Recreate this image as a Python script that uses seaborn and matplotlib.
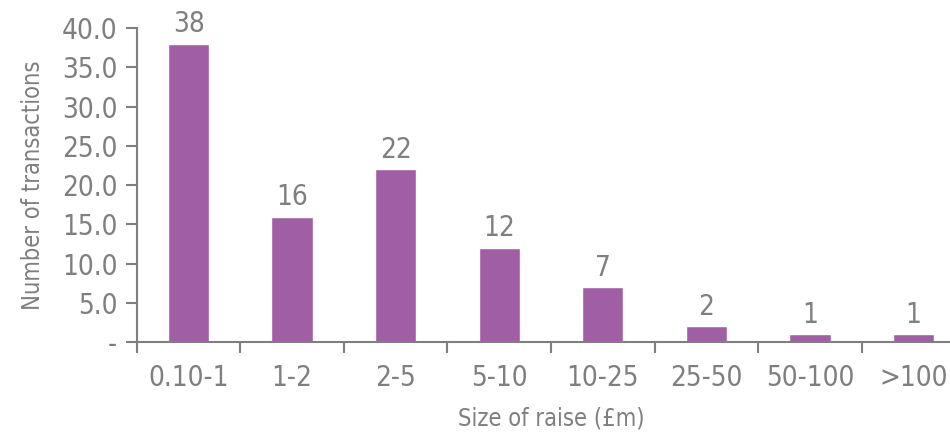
import matplotlib
matplotlib.use("Agg")
import matplotlib.pyplot as plt
import seaborn as sns
import pandas as pd

# data
categories = ["0.10-1", "1-2", "2-5", "5-10", "10-25", "25-50", "50-100", ">100"]
transactions = [38, 16, 22, 12, 7, 2, 1, 1]
y_ticks = [0, 5, 10, 15, 20, 25, 30, 35, 40]

df = pd.DataFrame({"size": categories, "count": transactions})

sns.set_theme(style="ticks")
plt.rcParams["font.family"] = ["DejaVu Sans"]
plt.rcParams["font.stretch"] = "condensed"

grey = "#7f7f7f"
bar_color = "#a05fa5"

fig = plt.figure(figsize=(9.5, 4.32), dpi=100)
ax = fig.add_axes([0.144, 0.208, 0.872, 0.727])

sns.barplot(data=df, x="size", y="count", color=bar_color, width=0.4,
            saturation=1, ax=ax)

for i, v in enumerate(transactions):
    ax.text(i, v + 0.7, str(v), ha="center", va="bottom", color=grey, fontsize=20)

ax.set_ylim(0, 40)
ax.set_xlim(-0.5, len(categories) - 0.5)
ax.set_yticks(y_ticks)
ax.set_yticklabels(["-"] + [f"{t:.1f}" for t in y_ticks[1:]])
ax.set_xticks(range(len(categories)))
ax.set_xticklabels(categories)
ax.set_xticks([i - 0.5 for i in range(len(categories) + 1)], minor=True)

ax.tick_params(axis="x", which="major", length=0, pad=16, labelsize=20, colors=grey)
ax.tick_params(axis="x", which="minor", length=8, width=1.5, color=grey, direction="out")
ax.tick_params(axis="y", length=8, width=1.5, color=grey, labelsize=20,
               labelcolor=grey, pad=6)

for s in ["top", "right"]:
    ax.spines[s].set_visible(False)
for s in ["left", "bottom"]:
    ax.spines[s].set_color(grey)
    ax.spines[s].set_linewidth(1.5)

ax.set_xlabel("Size of raise (£m)", color=grey, fontsize=17, labelpad=10)
ax.set_ylabel("Number of transactions", color=grey, fontsize=17, labelpad=12)

fig.savefig("out.png", dpi=100)
